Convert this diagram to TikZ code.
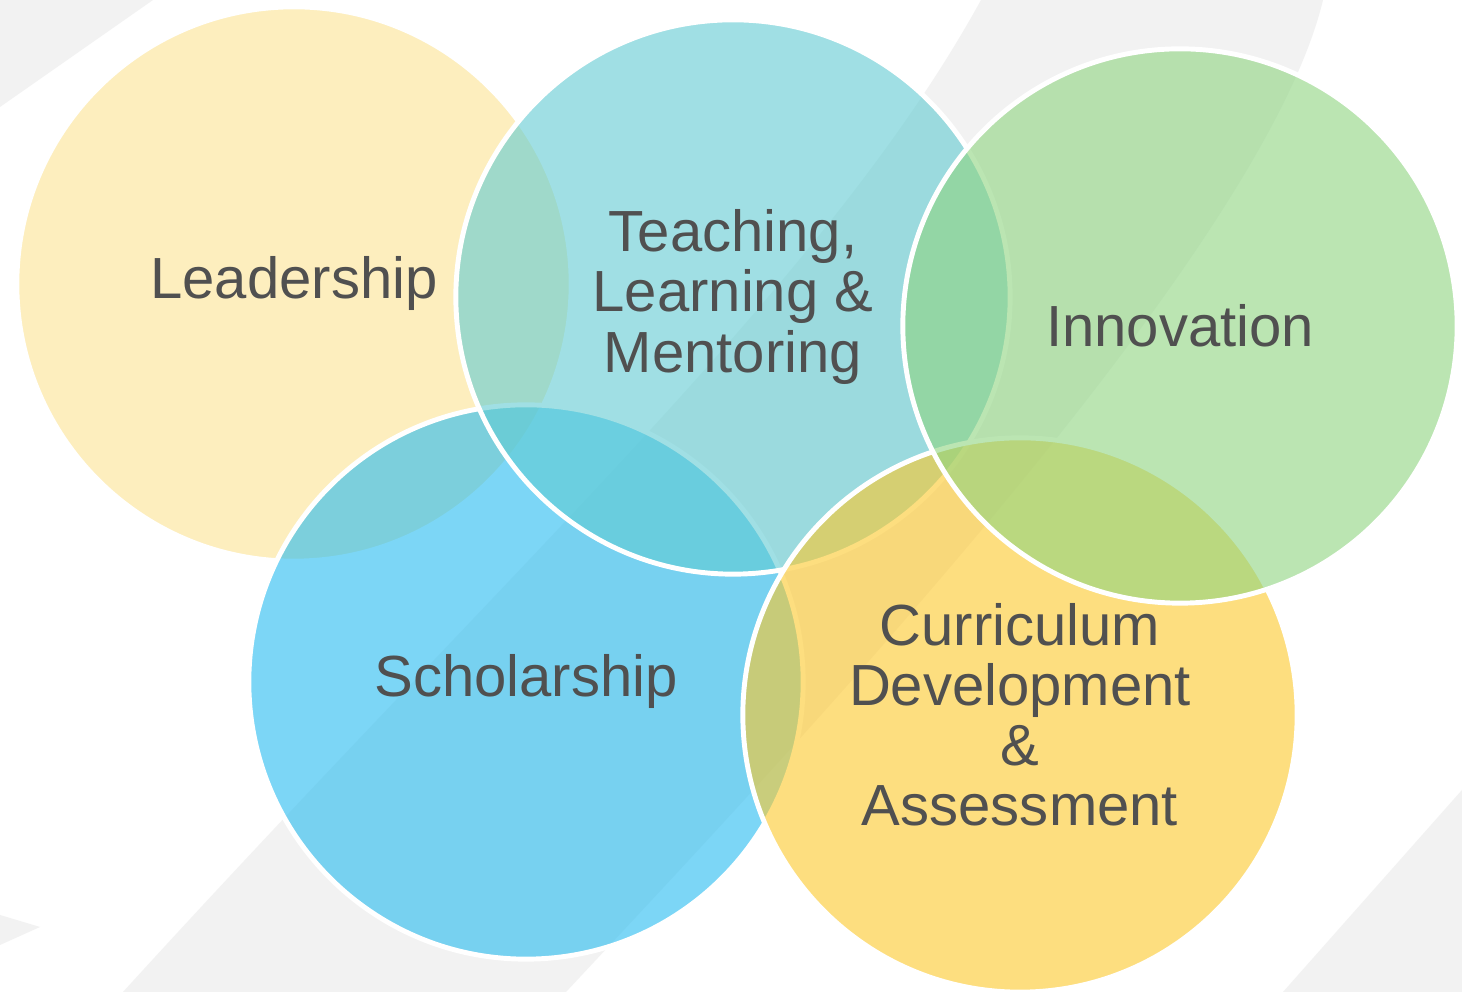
\documentclass[tikz,border=0pt]{standalone}
\usepackage{fontspec}
\setmainfont{Liberation Sans}

\definecolor{swoosh}{HTML}{F2F2F2}
\definecolor{leadc}{RGB}{253,227,147}
\definecolor{teachc}{RGB}{97,203,210}
\definecolor{innoc}{RGB}{142,212,128}
\definecolor{scholc}{RGB}{38,187,240}
\definecolor{currc}{RGB}{253,200,43}
\definecolor{inkc}{RGB}{80,80,80}

\tikzset{
  blob/.style={circle, draw=white, line width=1.4pt, fill opacity=0.6,
    minimum size=5.54cm, inner sep=0pt},
  tag/.style={text=inkc, align=center, font=\fontsize{16.5}{17.1}\selectfont}
}

\begin{document}
\begin{tikzpicture}[x=0.01cm, y=-0.01cm]
 \useasboundingbox (0,0) rectangle (1462,992);
 \fill[white] (0,0) rectangle (1462,992);

 % background swooshes
 \fill[swoosh] (0,0) -- (153,0) -- (0,107) -- cycle;
 \fill[swoosh] (123,992) .. controls (515,562) and (828,279) .. (981,0)
   -- (1323,0) .. controls (1263,252) and (791,751) .. (566,992) -- cycle;
 \fill[swoosh] (0,915) -- (40,927) -- (0,945) -- cycle;
 \fill[swoosh] (1462,790) -- (1283,992) -- (1462,992) -- cycle;

 % circles, bottom one first
 \node[blob, fill=leadc]  (lead)  at (294,284)  {};
 \node[blob, fill=scholc] (schol) at (526,682)  {};
 \node[blob, fill=teachc] (teach) at (733,297)  {};
 \node[blob, fill=currc]  (curr)  at (1020,715) {};
 \node[blob, fill=innoc]  (inno)  at (1180,326) {};

 % labels
 \node[tag] at (lead)  {Leadership};
 \node[tag] at (schol) {Scholarship};
 \node[tag] at (teach) {Teaching,\\Learning \&\\Mentoring};
 \node[tag] at (curr)  {Curriculum\\Development\\\&\\Assessment};
 \node[tag] at (inno)  {Innovation};
\end{tikzpicture}
\end{document}
